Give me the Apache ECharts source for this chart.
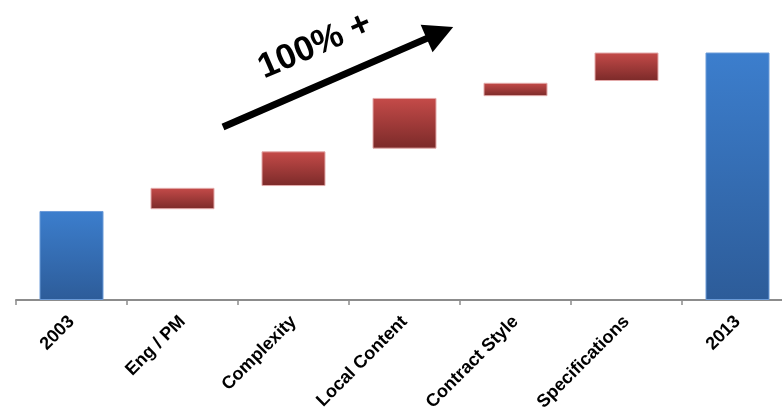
<!DOCTYPE html>
<html>
<head>
<meta charset="utf-8">
<script src="https://cdn.jsdelivr.net/npm/echarts@6/dist/echarts.min.js"></script>
<style>
html,body{margin:0;padding:0;background:#fff;overflow:hidden;}
#chart{width:794px;height:411px;}
</style>
</head>
<body>
<div id="chart"></div>
<script>
// Categories and waterfall values (2003 indexed to 100)
const categories = ['2003', 'Eng / PM', 'Complexity', 'Local Content', 'Contract Style', 'Specifications', '2013'];
const baseValues = [0, 102, 128, 170, 229, 246, 0];
const stepValues = [100, 24, 39, 57, 15, 32, 278];
const barKinds = ['total', 'up', 'up', 'up', 'up', 'up', 'total'];
const annotationText = '100% +';

const blueFill = new echarts.graphic.LinearGradient(0, 0, 0, 1, [
  {offset: 0, color: '#3c7ecd'}, {offset: 1, color: '#2d5c99'}
]);
const redFill = new echarts.graphic.LinearGradient(0, 0, 0, 1, [
  {offset: 0, color: '#c54b49'}, {offset: 1, color: '#7b2a29'}
]);

const stepData = stepValues.map((v, i) => ({
  value: v,
  itemStyle: barKinds[i] === 'total'
    ? {color: blueFill, borderColor: '#6b9bd8', borderWidth: 1}
    : {color: redFill, borderColor: '#e3aaaa', borderWidth: 1}
}));

const chart = echarts.init(document.getElementById('chart'), null, {renderer: 'canvas'});
chart.setOption({
  animation: false,
  backgroundColor: '#ffffff',
  grid: {left: 16, right: 1, top: 0, height: 300, containLabel: false, outerBoundsMode: 'none'},
  xAxis: {
    type: 'category',
    data: categories,
    boundaryGap: true,
    axisLine: {show: true, lineStyle: {color: '#8c8c8c', width: 2}},
    axisTick: {show: true, alignWithLabel: false, length: 5, lineStyle: {color: '#8c8c8c', width: 1.5}},
    axisLabel: {
      interval: 0, rotate: 45, margin: 19,
      color: '#000', fontWeight: 'bold', fontSize: 18,
      fontFamily: 'Liberation Sans, Arial, sans-serif'
    }
  },
  yAxis: {
    type: 'value', min: 0, max: 337, show: false,
    splitLine: {show: false}
  },
  series: [
    {
      type: 'bar', stack: 'wf', data: baseValues, barWidth: 64,
      itemStyle: {color: 'transparent'}, silent: true
    },
    {
      type: 'bar', stack: 'wf', data: stepData, barWidth: 64
    }
  ],
  graphic: [
    {
      type: 'group', x: 223, y: 127, rotation: 0.410,
      children: [
        {type: 'line', shape: {x1: 0, y1: 0, x2: 228, y2: 0}, style: {stroke: '#000', lineWidth: 7}},
        {type: 'polygon', shape: {points: [[222, -15], [251, 0], [222, 15]]}, style: {fill: '#000'}}
      ]
    },
    {
      type: 'text', x: 315, y: 46, rotation: 0.410,
      style: {
        text: annotationText, fill: '#000',
        font: 'bold 35px "Liberation Sans", Arial, sans-serif',
        align: 'center', verticalAlign: 'middle'
      }
    }
  ]
});
</script>
</body>
</html>
